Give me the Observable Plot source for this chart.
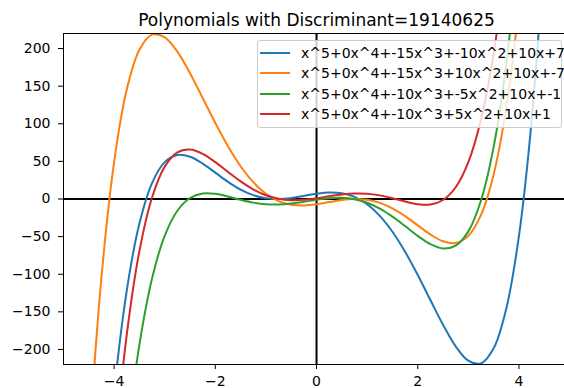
<!DOCTYPE html>
<html><head><meta charset="utf-8">
<script src="https://cdn.jsdelivr.net/npm/d3@7"></script>
<script src="https://cdn.jsdelivr.net/npm/@observablehq/plot@0.6"></script>
<style>
html,body{margin:0;padding:0;background:#fff;overflow:hidden}
#wrap{position:relative;width:564px;height:388px;font-family:"DejaVu Sans",sans-serif}
#legend{position:absolute;left:257px;top:40px;width:305px;height:88px;box-sizing:border-box;border:1px solid #cccccc;border-radius:3px;background:rgba(255,255,255,0.8)}
.row{position:absolute;left:0;height:20px;display:flex;align-items:center;font-size:14px;color:#000;white-space:nowrap}
.swatch{display:inline-block;width:30px;height:2px;margin-left:2px;margin-right:11px}
</style></head>
<body><div id="wrap"></div>
<script>
const title = "Polynomials with Discriminant=19140625";
const labels = [
  "x^5+0x^4+-15x^3+-10x^2+10x+7",
  "x^5+0x^4+-15x^3+10x^2+10x+-7",
  "x^5+0x^4+-10x^3+-5x^2+10x+-1",
  "x^5+0x^4+-10x^3+5x^2+10x+1"
];
const colors = ["#1f77b4", "#ff7f0e", "#2ca02c", "#d62728"];
const xTicks = [-4, -2, 0, 2, 4];
const yTicks = [-200, -150, -100, -50, 0, 50, 100, 150, 200];
const xs = [-4.5,-4.25,-4,-3.75,-3.5,-3.25,-3,-2.75,-2.5,-2.25,-2,-1.75,-1.5,-1.25,-1,-0.75,-0.5,-0.25,0,
            0.25,0.5,0.75,1,1.25,1.5,1.75,2,2.25,2.5,2.75,3,3.25,3.5,3.75,4,4.25,4.5];
const blueY = [-718.91,-451.22,-257,-121.69,-32.60,21.21,49,58.55,56.22,47.07,35,22.85,12.53,5.12,1,-0.03,1.34,4.11,7,
               8.64,7.66,2.78,-7,-22.37,-43.53,-70.10,-101,-134.32,-167.22,-195.80,-215,-218.46,-198.41,-145.56,-49,103.97,327.91];
const orangeY = [-327.91,-103.97,49,145.56,198.41,218.46,215,195.80,167.22,134.32,101,70.10,43.53,22.37,7,-2.78,-7.66,-8.64,-7,
                 -4.11,-1.34,0.03,-1,-5.12,-12.53,-22.85,-35,-47.07,-56.22,-58.55,-49,-21.21,32.60,121.69,257,451.22,718.91];
const greenY = [-1081.28,-752.73,-505,-323.05,-193.72,-105.62,-49,-15.62,1.34,7.43,7,3.37,-1.09,-4.83,-7,-7.33,-6.03,-3.66,-1,
                1.03,1.53,-0.29,-5,-12.79,-23.41,-35.99,-49,-60.05,-65.84,-62.00,-43,-2.00,69.22,180.43,343,570.11,876.78];
const redY = [-876.78,-570.11,-343,-180.43,-69.22,2.00,43,62.00,65.84,60.05,49,35.99,23.41,12.79,5,0.29,-1.53,-1.03,1,
              3.66,6.03,7.33,7,4.83,1.09,-3.37,-7,-7.43,-1.34,15.62,49,105.62,193.72,323.05,505,752.73,1081.28];

const series = [blueY, orangeY, greenY, redY];
const rows = [];
series.forEach((ys, i) => xs.forEach((x, j) => rows.push({x, y: ys[j], series: labels[i]})));

const chart = Plot.plot({
  width: 564, height: 388,
  marginTop: 33, marginBottom: 24, marginLeft: 63, marginRight: 0,
  style: {fontFamily: "DejaVu Sans, sans-serif", fontSize: "14px", color: "#000", background: "white"},
  x: {domain: [-5, 4.9], ticks: xTicks, tickSize: 5, tickPadding: 7, label: null},
  y: {domain: [-220, 220], ticks: yTicks, tickSize: 5, tickPadding: 8, label: null},
  color: {domain: labels, range: colors},
  marks: [
    Plot.ruleY([0], {stroke: "#000", strokeWidth: 2}),
    Plot.ruleX([0], {stroke: "#000", strokeWidth: 2}),
    Plot.line(rows, {x: "x", y: "y", z: "series", stroke: "series", strokeWidth: 2, curve: "catmull-rom", clip: true}),
    Plot.ruleY([220], {stroke: "#000", strokeWidth: 1}),
    Plot.ruleY([-220], {stroke: "#000", strokeWidth: 1}),
    Plot.ruleX([-5], {stroke: "#000", strokeWidth: 1}),
    Plot.text([title], {text: d => d, frameAnchor: "top", dx: 2.5, dy: -8, lineAnchor: "bottom", fontSize: 17, fill: "#000"})
  ]
});

const wrap = document.getElementById("wrap");
wrap.appendChild(chart);

const legend = document.createElement("div");
legend.id = "legend";
labels.forEach((lab, i) => {
  const r = document.createElement("div");
  r.className = "row";
  r.style.top = (2 + i * 20.3) + "px";
  const sw = document.createElement("span");
  sw.className = "swatch";
  sw.style.background = colors[i];
  const t = document.createElement("span");
  t.textContent = lab;
  r.appendChild(sw); r.appendChild(t);
  legend.appendChild(r);
});
wrap.appendChild(legend);
</script>
</body></html>
